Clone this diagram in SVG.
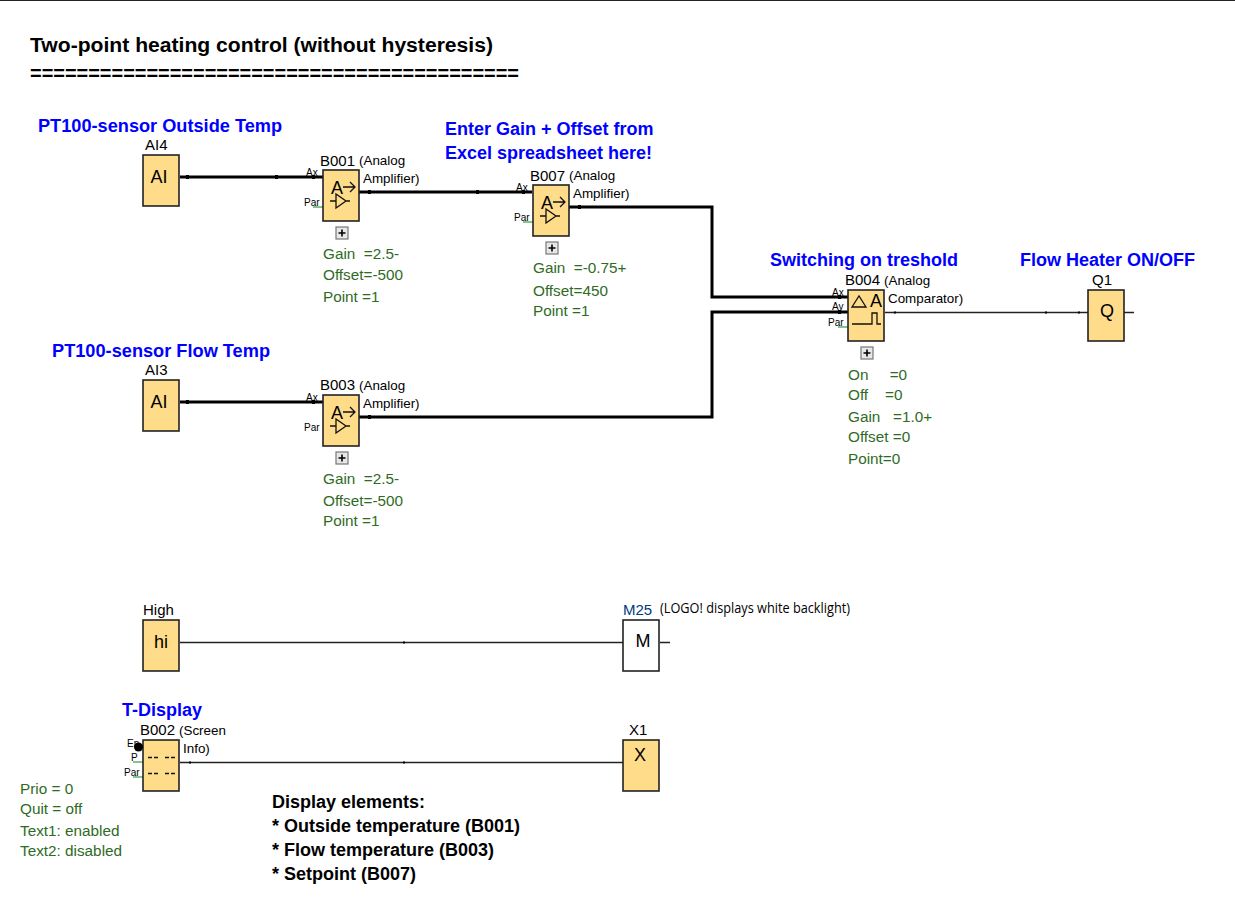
<svg xmlns="http://www.w3.org/2000/svg" width="1235" height="908" viewBox="0 0 1235 908">
<defs>
<style>
text{font-family:"Liberation Sans",Arial,sans-serif;fill:#000;white-space:pre}
.h{font-size:18px;font-weight:bold;fill:#0000ff}
.t{font-size:20px;font-weight:bold}
.b{font-size:18px;font-weight:bold}
.g{font-size:15.300px;fill:#2f6b1f}
.n{font-size:15px}
.s{font-size:13.400px}
.p{font-size:10px}
.c{font-size:18px;text-anchor:middle}
.box{fill:#ffdc8a;stroke:#222;stroke-width:1.6}
.thick{fill:none;stroke:#000;stroke-width:3}
.thin{fill:none;stroke:#222;stroke-width:1.300}
.tick{fill:none;stroke:#000;stroke-width:3.800}
.tickthin{fill:none;stroke:#000;stroke-width:1.800}
.par{fill:none;stroke:#5fae63;stroke-width:1.500}
.sym{fill:none;stroke:#111;stroke-width:1.300}
.exp{fill:#e8e8e8;stroke:#777;stroke-width:1.200}
</style>
<g id="expander"><rect class="exp" x="-6" y="-6" width="12" height="12"/><path d="M-3.500 0H3.500M0-3.500V3.500" stroke="#000" stroke-width="1.600"/></g>
<g id="amp"><rect class="box" width="36" height="51"/><text x="8" y="24" font-size="18">A</text><path class="sym" d="M20 17H32M27 12L32 17L27 22M7 31H13M13 24V38L23 31ZM23 31H27"/></g>
</defs>
<rect width="1235" height="908" fill="#fff"/>
<path d="M0 .5H1235" stroke="#222"/>
<text class="t" x="30" y="52" textLength="463" lengthAdjust="spacingAndGlyphs">Two-point heating control (without hysteresis)</text>
<text class="t" x="30" y="80" textLength="489" lengthAdjust="spacingAndGlyphs">==========================================</text>
<text class="h" x="38" y="132" textLength="244" lengthAdjust="spacingAndGlyphs">PT100-sensor Outside Temp</text>
<text class="h" x="445" y="135">Enter Gain + Offset from</text>
<text class="h" x="445" y="159">Excel spreadsheet here!</text>
<text class="h" x="52" y="357" textLength="218" lengthAdjust="spacingAndGlyphs">PT100-sensor Flow Temp</text>
<text class="h" x="770" y="266">Switching on treshold</text>
<text class="h" x="1020" y="266">Flow Heater ON/OFF</text>
<text class="h" x="122" y="716">T-Display</text>
<g id="connectors">
<path class="thick" d="M180 177H323"/>
<path class="thick" d="M359 192H532"/>
<path class="thick" d="M569 207H712V297H848"/>
<path class="thick" d="M180 402H323"/>
<path class="thick" d="M359 417H712V312H848"/>
<path class="tick" d="M186 177H189M275 177H278M312 177H315M368 192H371M476 192H479M186 402H189M312 402H315M522 192H525M578 207H581M368 417H371M838 297H841M838 312H841"/>
<path class="thin" d="M885 312.500H1088M1124 312.500H1134"/>
<path class="thin" d="M180 642.500H623M660 642.500H670"/>
<path class="thin" d="M180 762.500H623"/>
<path class="tickthin" d="M894 312.500H896M1045 312.500H1047M1078 312.500H1080M403 642.500H405M403 762.500H405M189 762.500H191"/>
<path class="par" d="M313 207H323M523 222H533M838 327H848M133 762H143M133 777H143"/>
</g>
<g id="AI4"><text class="n" x="145" y="150">AI4</text><rect class="box" x="143" y="155" width="36" height="51"/><text class="c" x="159" y="183">AI</text></g>
<g id="B001"><text class="n" x="320" y="166">B001</text><text class="s" x="359" y="165">(Analog</text><text class="s" x="363" y="183">Amplifier)</text><text class="p" x="306" y="176">Ax</text><text class="p" x="304" y="206">Par</text><use href="#amp" x="323" y="170"/><use href="#expander" x="342" y="233"/><text class="g" x="323" y="259">Gain  =2.5-</text><text class="g" x="323" y="280">Offset=-500</text><text class="g" x="323" y="302">Point =1</text></g>
<g id="B007"><text class="n" x="530" y="181">B007</text><text class="s" x="569" y="180">(Analog</text><text class="s" x="573" y="198">Amplifier)</text><text class="p" x="516" y="191">Ax</text><text class="p" x="514" y="221">Par</text><use href="#amp" x="533" y="185"/><use href="#expander" x="552" y="248"/><text class="g" x="533" y="273">Gain  =-0.75+</text><text class="g" x="533" y="296">Offset=450</text><text class="g" x="533" y="316">Point =1</text></g>
<g id="AI3"><text class="n" x="145" y="375">AI3</text><rect class="box" x="143" y="380" width="36" height="51"/><text class="c" x="159" y="408">AI</text></g>
<g id="B003"><text class="n" x="320" y="390">B003</text><text class="s" x="359" y="390">(Analog</text><text class="s" x="363" y="408">Amplifier)</text><text class="p" x="306" y="401">Ax</text><text class="p" x="304" y="431">Par</text><use href="#amp" x="323" y="395"/><use href="#expander" x="342" y="458"/><text class="g" x="323" y="484">Gain  =2.5-</text><text class="g" x="323" y="506">Offset=-500</text><text class="g" x="323" y="526">Point =1</text></g>
<g id="B004"><text class="n" x="845" y="285">B004</text><text class="s" x="884" y="285">(Analog</text><text class="s" x="888" y="303">Comparator)</text><text class="p" x="832" y="296">Ax</text><text class="p" x="832" y="310">Ay</text><text class="p" x="828" y="326">Par</text><rect class="box" x="848" y="290" width="36" height="51"/><path class="sym" d="M852 307L859 296L866 307ZM852 324H872V313H877V324H881"/><text x="870" y="307" font-size="18">A</text><use href="#expander" x="867" y="353"/><text class="g" x="848" y="380">On     =0</text><text class="g" x="848" y="400">Off    =0</text><text class="g" x="848" y="422">Gain   =1.0+</text><text class="g" x="848" y="442">Offset =0</text><text class="g" x="848" y="464">Point=0</text></g>
<g id="Q1"><text class="n" x="1092" y="285">Q1</text><rect class="box" x="1088" y="290" width="36" height="51"/><text class="c" x="1107" y="317">Q</text></g>
<g id="High"><text class="n" x="143" y="615">High</text><rect class="box" x="143" y="620" width="36" height="51"/><text class="c" x="161" y="648">hi</text></g>
<g id="M25"><text class="n" x="623" y="615" style="fill:#003a80">M25</text><text x="660" y="613" font-size="14" style="font-family:'Open Sans',sans-serif" textLength="190" lengthAdjust="spacingAndGlyphs">(LOGO! displays white backlight)</text><rect x="623" y="620" width="36" height="51" fill="#fff" stroke="#222" stroke-width="1.600"/><text class="c" x="643" y="647">M</text></g>
<g id="B002"><text class="n" x="140" y="735">B002</text><text class="s" x="179" y="735">(Screen</text><text class="s" x="183" y="753">Info)</text><text class="p" x="127" y="747">En</text><text class="p" x="131" y="761">P</text><text class="p" x="124" y="776">Par</text><rect class="box" x="143" y="740" width="36" height="51"/><circle cx="138.500" cy="747" r="4.500" fill="#000"/><path class="sym" stroke-dasharray="4 2 4 7" d="M148 757.500H176M148 773.500H176"/></g>
<g id="X1"><text class="n" x="629" y="735">X1</text><rect class="box" x="623" y="740" width="36" height="51"/><text class="c" x="640" y="761">X</text></g>
<text class="g" x="20" y="794">Prio = 0</text><text class="g" x="20" y="814">Quit = off</text><text class="g" x="20" y="836">Text1: enabled</text><text class="g" x="20" y="856">Text2: disabled</text>
<text class="b" x="272" y="808">Display elements:</text><text class="b" x="272" y="832">* Outside temperature (B001)</text><text class="b" x="272" y="856">* Flow temperature (B003)</text><text class="b" x="272" y="880">* Setpoint (B007)</text>
</svg>
